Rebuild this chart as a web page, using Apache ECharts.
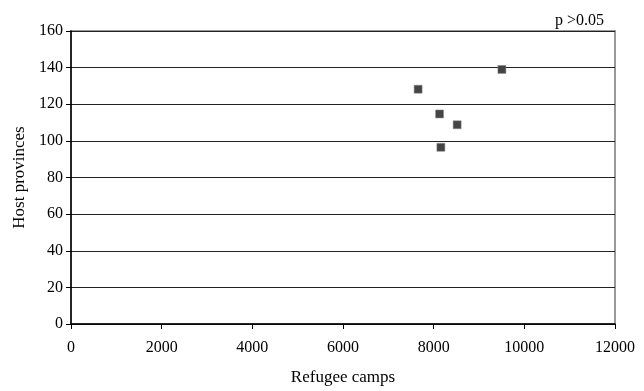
<!DOCTYPE html>
<html>
<head>
<meta charset="utf-8">
<script src="https://cdn.jsdelivr.net/npm/echarts@6/dist/echarts.min.js"></script>
<style>html,body{margin:0;padding:0;background:#fff;}#c{width:644px;height:391px;}</style>
</head>
<body>
<div id="c"></div>
<script>
const refugeeCamps = [7657, 8130, 8518, 8159, 9505];
const hostProvinces = [128.2, 114.7, 108.8, 96.5, 139];
const xTicks = [0, 2000, 4000, 6000, 8000, 10000, 12000];
const yTicks = [0, 20, 40, 60, 80, 100, 120, 140, 160];

const font = 'Liberation Serif, Times New Roman, serif';
const chart = echarts.init(document.getElementById('c'), null, {renderer: 'canvas'});
chart.setOption({
  animation: false,
  backgroundColor: '#fff',
  textStyle: {fontFamily: font},
  title: {
    text: 'p >0.05', left: 550, top: 8,
    textStyle: {fontFamily: font, fontSize: 16, fontWeight: 'normal', color: '#000'}
  },
  grid: {left: 71, right: 29, top: 31, bottom: 67, show: true, borderColor: '#999', borderWidth: 2, outerBoundsMode: 'none'},
  xAxis: {
    type: 'value', min: xTicks[0], max: xTicks[xTicks.length - 1], interval: 2000,
    name: 'Refugee camps', nameLocation: 'middle', nameGap: 45,
    nameTextStyle: {fontFamily: font, fontSize: 17, color: '#000'},
    axisLine: {show: true, onZero: false, lineStyle: {color: '#000', width: 1.5}},
    axisTick: {show: true, inside: false, length: 5, lineStyle: {color: '#000'}},
    axisLabel: {fontFamily: font, fontSize: 16, color: '#000', margin: 16, formatter: v => String(v)},
    splitLine: {show: false}
  },
  yAxis: {
    type: 'value', min: yTicks[0], max: yTicks[yTicks.length - 1], interval: 20,
    name: 'Host provinces', nameLocation: 'middle', nameGap: 40, nameRotate: 90,
    nameTextStyle: {fontFamily: font, fontSize: 17, color: '#000'},
    axisLine: {show: true, onZero: false, lineStyle: {color: '#000', width: 1.5}},
    axisTick: {show: true, inside: false, length: 5, lineStyle: {color: '#000'}},
    axisLabel: {fontFamily: font, fontSize: 16, color: '#000', margin: 8},
    splitLine: {show: true, lineStyle: {color: '#222', width: 1}}
  },
  series: [{
    type: 'scatter',
    data: refugeeCamps.map((x, i) => [x, hostProvinces[i]]),
    symbol: 'rect', symbolSize: 8,
    itemStyle: {color: '#444', borderColor: '#888', borderWidth: 0.5, opacity: 1}
  }]
});
</script>
</body>
</html>
